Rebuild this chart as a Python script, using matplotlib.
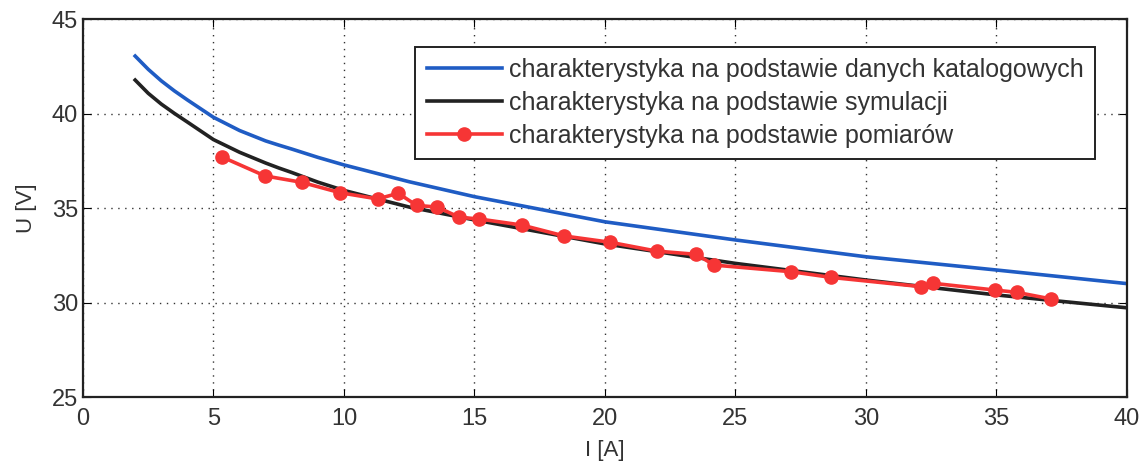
import matplotlib.pyplot as plt

plt.rcParams['font.family'] = ['Liberation Sans', 'DejaVu Sans']

# charakterystyka katalogowa i symulacyjna
I_curve = [2, 2.5, 3, 3.5, 4, 5, 6, 7, 7.5, 8, 9, 10, 12.5, 15, 20, 25, 30, 35, 40]
U_katalog = [43.04, 42.34, 41.73, 41.2, 40.72, 39.8, 39.1, 38.55, 38.33, 38.12, 37.68,
             37.28, 36.39, 35.6, 34.27, 33.31, 32.42, 31.72, 31.0]
U_symulacja = [41.77, 41.07, 40.5, 40.01, 39.55, 38.62, 37.95, 37.38, 37.12, 36.88, 36.37,
               35.93, 35.05, 34.37, 33.1, 32.07, 31.19, 30.4, 29.72]

# punkty pomiarowe
I_pom = [5.33, 6.97, 8.38, 9.85, 11.29, 12.08, 12.78, 13.57, 14.42, 15.18,
         16.81, 18.44, 20.19, 21.98, 23.49, 24.19, 27.13, 28.66,
         32.11, 32.55, 34.94, 35.77, 37.09]
U_pom = [37.7, 36.7, 36.36, 35.81, 35.48, 35.78, 35.14, 35.05, 34.51, 34.42,
         34.1, 33.52, 33.19, 32.72, 32.55, 31.98, 31.63, 31.33,
         30.84, 31.02, 30.66, 30.54, 30.19]

fig = plt.figure(figsize=(11.46, 4.65), dpi=100)
ax = fig.add_axes([0.0724, 0.1462, 0.911, 0.8129])

ax.plot(I_curve, U_katalog, color='#1f5cc4', lw=2.6,
        label='charakterystyka na podstawie danych katalogowych')
ax.plot(I_curve, U_symulacja, color='#222222', lw=2.6,
        label='charakterystyka na podstawie symulacji')
ax.plot(I_pom, U_pom, color='#f63535', lw=2.6, marker='o', ms=9.5,
        label='charakterystyka na podstawie pomiarów')

ax.set_xlim(0, 40)
ax.set_ylim(25, 45)
ax.set_xticks(range(0, 41, 5))
ax.set_yticks(range(25, 46, 5))
ax.grid(True, color='#333333', linestyle=(0, (1, 4)), lw=1.0)
ax.tick_params(direction='in', top=True, right=True, labelsize=17, length=6,
               labelcolor='#333333')
ax.tick_params(axis='x', pad=8)
for s in ax.spines.values():
    s.set_linewidth(1.6)
    s.set_color('#222222')

ax.set_xlabel('I [A]', fontsize=16, labelpad=7, color='#333333')
ax.set_ylabel('U [V]', fontsize=16, labelpad=11, color='#333333')

leg = ax.legend(loc='upper right', bbox_to_anchor=(0.969, 0.926), fontsize=18,
                frameon=True, fancybox=False, borderaxespad=0, handlelength=3.0,
                handletextpad=0.28, labelspacing=0.36, borderpad=0.45)
leg.get_frame().set_edgecolor('#222222')
leg.get_frame().set_linewidth(1.4)
leg.get_frame().set_alpha(1)
for t in leg.get_texts():
    t.set_color('#333333')

fig.savefig('out.png', dpi=100)
